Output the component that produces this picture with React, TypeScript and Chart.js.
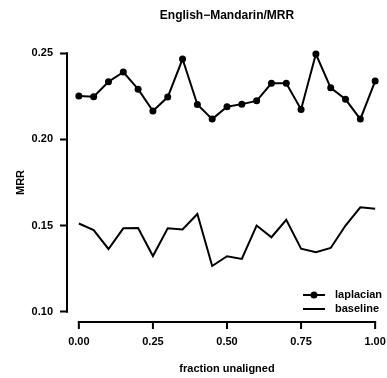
import React, { useEffect, useRef } from "react";
import { Chart, registerables } from "chart.js";

Chart.register(...registerables);

const fractions = [0, 0.05, 0.1, 0.15, 0.2, 0.25, 0.3, 0.35, 0.4, 0.45, 0.5, 0.55, 0.6, 0.65, 0.7, 0.75, 0.8, 0.85, 0.9, 0.95, 1.0];
const laplacian = [0.2252, 0.2248, 0.2335, 0.2391, 0.2292, 0.2165, 0.2246, 0.2467, 0.2203, 0.2118, 0.219, 0.2205, 0.2224, 0.2326, 0.2326, 0.2174, 0.2496, 0.23, 0.2233, 0.2118, 0.2339];
const baseline = [0.1512, 0.1474, 0.1364, 0.1484, 0.1486, 0.1323, 0.1484, 0.1477, 0.1567, 0.1265, 0.1322, 0.1306, 0.15, 0.1432, 0.1533, 0.1366, 0.1345, 0.137, 0.15, 0.1606, 0.1597];
const xTicks = [0, 0.25, 0.5, 0.75, 1.0];
const yTicks = [0.1, 0.15, 0.2, 0.25];
const seriesNames = ["laplacian", "baseline"];
const titleText = "English\u2212Mandarin/MRR";
const xTitle = "fraction unaligned";
const yTitle = "MRR";

const FONT = "'Liberation Sans', Arial, Helvetica, sans-serif";

const rAxesPlugin = {
  id: "rAxes",
  afterDraw(chart: any) {
    const ctx = chart.ctx;
    const xs = chart.scales.x;
    const ys = chart.scales.y;
    const area = chart.chartArea;
    ctx.save();
    ctx.strokeStyle = "#000";
    ctx.lineWidth = 2;
    ctx.lineCap = "square";
    ctx.beginPath();
    ctx.moveTo(xs.getPixelForValue(xTicks[0]), area.bottom);
    ctx.lineTo(xs.getPixelForValue(xTicks[xTicks.length - 1]), area.bottom);
    ctx.moveTo(area.left, ys.getPixelForValue(yTicks[0]));
    ctx.lineTo(area.left, ys.getPixelForValue(yTicks[yTicks.length - 1]));
    ctx.stroke();
    ctx.lineCap = "butt";
    ctx.beginPath();
    xTicks.forEach((v) => {
      const px = xs.getPixelForValue(v);
      ctx.moveTo(px, area.bottom);
      ctx.lineTo(px, area.bottom + 7);
    });
    ctx.stroke();

    // legend
    const lx0 = area.right - 84;
    const lx1 = area.right - 62;
    const tx = area.right - 52;
    const rows = [area.bottom - 27, area.bottom - 13];
    ctx.font = `bold 11px ${FONT}`;
    ctx.fillStyle = "#000";
    ctx.textBaseline = "middle";
    ctx.textAlign = "left";
    rows.forEach((y, i) => {
      ctx.beginPath();
      ctx.moveTo(lx0, y);
      ctx.lineTo(lx1, y);
      ctx.stroke();
      if (i === 0) {
        ctx.beginPath();
        ctx.arc((lx0 + lx1) / 2, y, 3.5, 0, Math.PI * 2);
        ctx.fill();
      }
      ctx.fillText(seriesNames[i], tx, y);
    });
    ctx.restore();
  },
};

export default function App() {
  const ref = useRef<HTMLCanvasElement | null>(null);

  useEffect(() => {
    if (!ref.current) return;
    const chart = new Chart(ref.current, {
      type: "line",
      data: {
        datasets: [
          {
            label: seriesNames[0],
            data: fractions.map((f, i) => ({ x: f, y: laplacian[i] })),
            borderColor: "#000",
            backgroundColor: "#000",
            borderWidth: 2,
            pointRadius: 3.5,
            pointBackgroundColor: "#000",
            pointBorderWidth: 0,
            tension: 0,
          },
          {
            label: seriesNames[1],
            data: fractions.map((f, i) => ({ x: f, y: baseline[i] })),
            borderColor: "#000",
            borderWidth: 2,
            pointRadius: 0,
            tension: 0,
          },
        ],
      },
      options: {
        responsive: false,
        animation: false,
        layout: { padding: 0, autoPadding: false },
        plugins: {
          legend: { display: false },
          tooltip: { enabled: false },
          title: {
            display: true,
            text: titleText,
            fullSize: false,
            color: "#000",
            font: { family: FONT, size: 12, weight: "bold", lineHeight: 1.2 },
            padding: { top: 8, bottom: 20.6 },
          },
        },
        scales: {
          x: {
            type: "linear",
            min: -0.04,
            max: 1.04,
            afterBuildTicks: (s: any) => {
              s.ticks = xTicks.map((v) => ({ value: v }));
            },
            afterFit: (s: any) => {
              s.height = 56;
              s.paddingLeft = 0;
              s.paddingRight = 0;
            },
            border: { display: false },
            grid: {
              display: false,
              drawTicks: true,
              tickLength: 13,
            },
            ticks: {
              color: "#000",
              padding: 0,
              maxRotation: 0,
              autoSkip: false,
              font: { family: FONT, size: 11, weight: "bold", lineHeight: 1.2 },
              callback: (v: any) => Number(v).toFixed(2),
            },
            title: {
              display: true,
              text: xTitle,
              color: "#000",
              font: { family: FONT, size: 11, weight: "bold", lineHeight: 1.2 },
              padding: { top: 0, bottom: 2.4 },
            },
          },
          y: {
            type: "linear",
            min: 0.094,
            max: 0.256,
            afterBuildTicks: (s: any) => {
              s.ticks = yTicks.map((v) => ({ value: v }));
            },
            afterFit: (s: any) => {
              s.width = 67;
            },
            border: { display: false },
            grid: {
              drawOnChartArea: false,
              drawTicks: true,
              tickLength: 7,
              tickWidth: 2,
              tickColor: "#000",
            },
            ticks: {
              color: "#000",
              padding: 7,
              autoSkip: false,
              font: { family: FONT, size: 11, weight: "bold", lineHeight: 1.2 },
              callback: (v: any) => Number(v).toFixed(2),
            },
            title: {
              display: true,
              text: yTitle,
              color: "#000",
              font: { family: FONT, size: 11, weight: "bold", lineHeight: 1.2 },
              padding: { top: 14.4, bottom: 0 },
            },
          },
        },
      },
      plugins: [rAxesPlugin],
    } as any);
    return () => chart.destroy();
  }, []);

  return (
    <div style={{ position: "absolute", left: 0, top: 0, width: 387, height: 378, background: "#fff" }}>
      <canvas ref={ref} width={387} height={378} style={{ display: "block", width: 387, height: 378 }} />
    </div>
  );
}
